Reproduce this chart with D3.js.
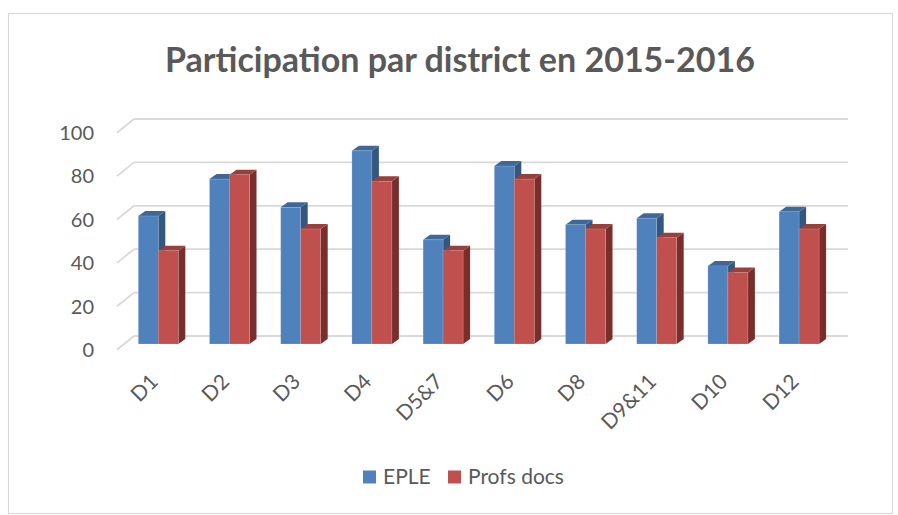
<!DOCTYPE html>
<html>
<head>
<meta charset="utf-8">
<script src="https://cdn.jsdelivr.net/npm/d3@7"></script>
<style>
  body { margin: 0; background: #fff; }
  svg text { font-family: Lato, "Open Sans", sans-serif; fill: #595959; }
</style>
</head>
<body>
<div id="chart"></div>
<script>
// data
var categories = ["D1", "D2", "D3", "D4", "D5&7", "D6", "D8", "D9&11", "D10", "D12"];
var series = ["EPLE", "Profs docs"];
var epleValues = [59, 76, 63, 89, 48, 82, 55, 58, 36, 61];
var profsValues = [43, 78, 53, 75, 43, 76, 53, 49, 33, 53];
var yTicks = [0, 20, 40, 60, 80, 100];

var colours = {
    "EPLE": { front: "#4f81bd", top: "#3f6898", side: "#34577f" },
    "Profs docs": { front: "#c0504d", top: "#99403d", side: "#7a2e2c" }
};

var width = 898, height = 515;

var svg = d3.select("#chart").append("svg")
    .attr("width", width)
    .attr("height", height);

// outer chart border
svg.append("rect")
    .attr("x", 8.5).attr("y", 13.5)
    .attr("width", 884).attr("height", 500)
    .style("fill", "#fff")
    .style("stroke", "#d9d9d9")
    .style("stroke-width", 1.2);

svg.append("text")
    .attr("x", 460)
    .attr("y", 72)
    .attr("text-anchor", "middle")
    .attr("textLength", 590)
    .attr("lengthAdjust", "spacingAndGlyphs")
    .style("font-size", "34px")
    .style("font-weight", "bold")
    .text("Participation par district en 2015-2016");

// scales (bar front plane)
var x = d3.scaleBand().domain(categories).range([122.7, 834.7]);
var xs = d3.scaleBand().domain(series).range([0, 40]);
var y = d3.scaleLinear().domain([0, 100]).range([344, 127]);

// 3d offsets
var wallBackDy = -8, wallFrontDy = 5.7;
var wallFrontX = 117, wallBackX = 134, wallRight = 848;
var depthX = 7, depthY = -5;

var grid = svg.append("g").attr("id", "grid");

yTicks.forEach(function (v) {
    // back wall line
    grid.append("line")
        .attr("x1", wallBackX).attr("y1", y(v) + wallBackDy)
        .attr("x2", wallRight).attr("y2", y(v) + wallBackDy)
        .style("stroke", "#d9d9d9").style("stroke-width", 1.8);
    // side wall line
    grid.append("line")
        .attr("x1", wallFrontX).attr("y1", y(v) + wallFrontDy)
        .attr("x2", wallBackX).attr("y2", y(v) + wallBackDy)
        .style("stroke", "#d9d9d9").style("stroke-width", 1.8);
    // tick label
    svg.append("text")
        .attr("x", 94)
        .attr("y", y(v) + wallFrontDy)
        .attr("dy", "0.36em")
        .attr("text-anchor", "end")
        .style("font-size", "20px")
        .text(v);
});

var bars = svg.append("g").attr("id", "bars");

function drawBar(cat, s, value) {
    var c = colours[s];
    var x0 = x(cat) + (x.bandwidth() - 40) / 2 + xs(s);
    var x1 = x0 + xs.bandwidth();
    var y0 = y(0), y1 = y(value);
    var g = bars.append("g");
    // side
    g.append("path")
        .attr("d", "M" + x1 + "," + y0 + "L" + (x1 + depthX) + "," + (y0 + depthY) +
            "L" + (x1 + depthX) + "," + (y1 + depthY) + "L" + x1 + "," + y1 + "Z")
        .style("fill", c.side);
    // top
    g.append("path")
        .attr("d", "M" + x0 + "," + y1 + "L" + (x0 + depthX) + "," + (y1 + depthY) +
            "L" + (x1 + depthX) + "," + (y1 + depthY) + "L" + x1 + "," + y1 + "Z")
        .style("fill", c.top);
    // front
    g.append("rect")
        .attr("x", x0).attr("y", y1)
        .attr("width", x1 - x0).attr("height", y0 - y1)
        .style("fill", c.front)
        .style("stroke", "rgba(255,255,255,0.25)")
        .style("stroke-width", 0.6);
}

categories.forEach(function (cat, i) {
    drawBar(cat, "EPLE", epleValues[i]);
    drawBar(cat, "Profs docs", profsValues[i]);
});

// category labels, rotated
categories.forEach(function (cat) {
    var cx = x(cat) + x.bandwidth() / 2;
    svg.append("text")
        .attr("transform", "translate(" + (cx + 1) + ",383) rotate(-45)")
        .attr("text-anchor", "end")
        .style("font-size", "21px")
        .text(cat);
});

// legend
var legend = svg.append("g").attr("id", "legend");
var legendX = [363, 448];
series.forEach(function (s, i) {
    legend.append("rect")
        .attr("x", legendX[i]).attr("y", 470.5)
        .attr("width", 13).attr("height", 13)
        .style("fill", colours[s].front);
    legend.append("text")
        .attr("x", legendX[i] + 20)
        .attr("y", 484)
        .style("font-size", "21px")
        .text(s);
});
</script>
</body>
</html>
